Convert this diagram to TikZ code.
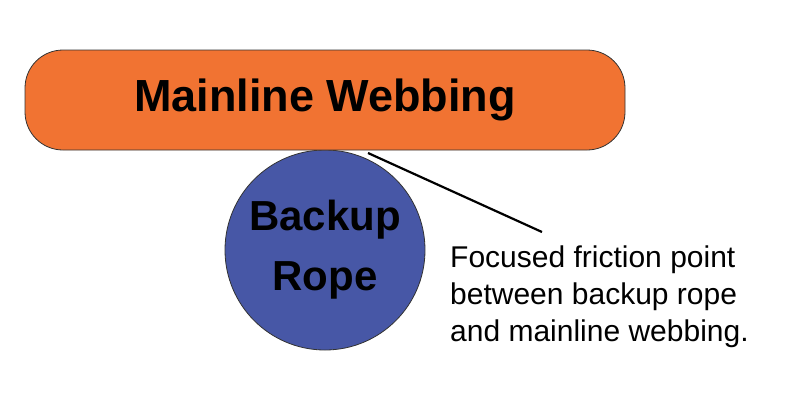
\documentclass[tikz,border=0pt]{standalone}
\usepackage{fontspec}
\setmainfont{Liberation Sans}
\usepackage{tikz}
\definecolor{webbing}{RGB}{241,115,50}
\definecolor{rope}{RGB}{71,87,166}

\begin{document}
\begin{tikzpicture}[x=1pt,y=-1pt,
      web/.style={draw=black!80,line width=0.8pt,fill=webbing,rectangle,rounded corners=38pt,
        minimum width=600pt,minimum height=100pt,inner sep=0pt,
        font=\fontsize{45}{50}\selectfont\bfseries},
      rp/.style={draw=black!80,line width=0.8pt,fill=rope,circle,minimum size=200pt,inner sep=0pt,
        align=center,font=\fontsize{42}{60}\selectfont\bfseries},
      lbl/.style={align=left,inner sep=0pt,font=\fontsize{30}{37}\selectfont}]
    \useasboundingbox (0,0) rectangle (800,400);
    \node[rp](r)  at (325,250) {Backup\\Rope};
    \node[web](w) at (325,100) {Mainline Webbing};
    \node[lbl,anchor=west](t) at (450,297)
      {Focused friction point\\between backup rope\\and mainline webbing.};
    \coordinate (fp) at (368,153);
    \coordinate (tip) at (542,232);
    \draw[line width=2.2pt](fp)--(tip);
  \end{tikzpicture}
\end{document}
